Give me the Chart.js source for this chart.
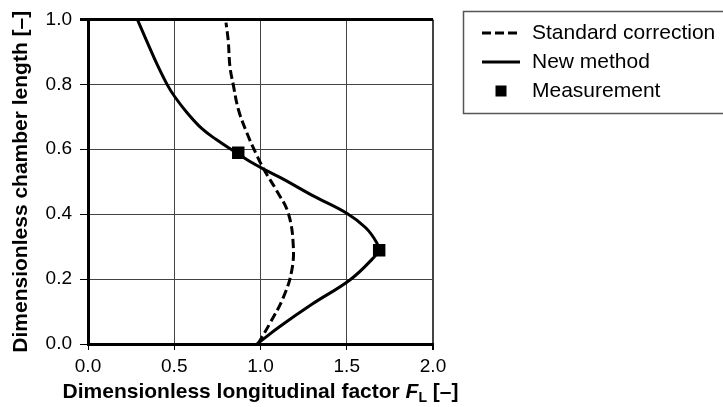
<!DOCTYPE html>
<html>
<head>
<meta charset="utf-8">
<script src="https://cdn.jsdelivr.net/npm/chart.js@4/dist/chart.umd.min.js"></script>
<style>
  body { margin: 0; background: #fff; }
  #wrap { width: 723px; height: 407px; }
</style>
</head>
<body>
<div id="wrap"><canvas id="myChart" width="723" height="407"></canvas></div>
<script>
// values (x = longitudinal factor, y = chamber length)
var stdX = [0.985, 1.054, 1.132, 1.18, 1.19, 1.161, 1.093, 1.025, 0.977, 0.919, 0.871, 0.842, 0.823, 0.813, 0.80];
var stdY = [0.0, 0.063, 0.143, 0.223, 0.303, 0.403, 0.473, 0.533, 0.583, 0.653, 0.724, 0.799, 0.854, 0.934, 0.99];

var newX = [0.98, 1.11, 1.30, 1.52, 1.65, 1.685, 1.673, 1.61, 1.50, 1.30, 1.132, 1.035, 0.939, 0.842, 0.746, 0.659, 0.572, 0.50, 0.459, 0.40, 0.340, 0.286];
var newY = [0.0, 0.053, 0.123, 0.198, 0.263, 0.29, 0.313, 0.358, 0.403, 0.458, 0.508, 0.534, 0.562, 0.595, 0.629, 0.664, 0.714, 0.764, 0.799, 0.862, 0.934, 1.0];

var measX = [0.871, 1.688];
var measY = [0.589, 0.289];

var seriesNames = ['Standard correction', 'New method', 'Measurement'];
var xTitle = ['Dimensionless longitudinal factor ', 'F', 'L', ' [\u2013]'];
var yTitle = 'Dimensionless chamber length [\u2013]';

function toPoints(xs, ys) {
  var pts = [];
  for (var i = 0; i < xs.length; i++) {
    pts.push({ x: xs[i], y: ys[i] });
  }
  return pts;
}

var FONT = 'Liberation Sans, Arial, sans-serif';

// draws the boxed legend and the x title (italic F with subscript L)
var extras = {
  id: 'extras',
  afterDraw: function (chart) {
    var ctx = chart.ctx;
    var sets = chart.data.datasets;
    ctx.save();

    // legend frame
    ctx.strokeStyle = '#555';
    ctx.lineWidth = 1.5;
    ctx.strokeRect(463.5, 11.5, 300, 102);

    var rows = [33, 62, 91];
    ctx.font = '21px ' + FONT;
    ctx.textBaseline = 'middle';
    ctx.fillStyle = '#000';
    for (var i = 0; i < sets.length; i++) {
      var ds = sets[i];
      var y = rows[i];
      if (ds.showLine) {
        ctx.beginPath();
        ctx.setLineDash(ds.borderDash || []);
        ctx.lineWidth = ds.borderWidth;
        ctx.strokeStyle = ds.borderColor;
        ctx.moveTo(482, y);
        ctx.lineTo(520, y);
        ctx.stroke();
        ctx.setLineDash([]);
      } else {
        ctx.fillStyle = ds.pointBackgroundColor;
        ctx.fillRect(495.5, y - 5.5, 11, 11);
      }
      ctx.fillStyle = '#000';
      ctx.textAlign = 'left';
      ctx.fillText(ds.label, 532, y);
    }

    // x axis title
    var area = chart.chartArea;
    var fonts = ['bold 21px ' + FONT, 'italic bold 21px ' + FONT, 'bold 14px ' + FONT, 'bold 21px ' + FONT];
    var shifts = [0, 0, 4, 0];
    var total = 0;
    var widths = [];
    for (var j = 0; j < xTitle.length; j++) {
      ctx.font = fonts[j];
      widths.push(ctx.measureText(xTitle[j]).width);
      total += widths[j];
    }
    var x = (area.left + area.right) / 2 - total / 2;
    ctx.textBaseline = 'alphabetic';
    ctx.textAlign = 'left';
    for (var k = 0; k < xTitle.length; k++) {
      ctx.font = fonts[k];
      ctx.fillText(xTitle[k], x, 398 + shifts[k]);
      x += widths[k];
    }
    ctx.restore();
  }
};

var ctx = document.getElementById('myChart').getContext('2d');

var chartData = {
  type: 'scatter',
  data: {
    datasets: [
      {
        label: seriesNames[0],
        data: toPoints(stdX, stdY),
        showLine: true,
        borderColor: '#000',
        borderWidth: 3,
        borderDash: [9, 4],
        tension: 0.4,
        pointRadius: 0,
        order: 2,
      },
      {
        label: seriesNames[1],
        data: toPoints(newX, newY),
        showLine: true,
        borderColor: '#000',
        borderWidth: 3,
        tension: 0.4,
        pointRadius: 0,
        order: 1,
      },
      {
        label: seriesNames[2],
        data: toPoints(measX, measY),
        showLine: false,
        pointStyle: 'rect',
        pointRadius: 8.8,
        pointBorderWidth: 0,
        pointBackgroundColor: '#000',
        pointBorderColor: '#000',
        order: 0,
      },
    ],
  },
  options: {
    responsive: false,
    animation: false,
    layout: { padding: { top: 11, right: 290, left: 0, bottom: 0 } },
    plugins: {
      legend: { display: false },
      tooltip: { enabled: false },
    },
    scales: {
      x: {
        min: 0,
        max: 2,
        ticks: {
          stepSize: 0.5,
          padding: 5,
          color: '#000',
          font: { family: FONT, size: 19 },
          callback: function (v) { return v.toFixed(1); },
        },
        grid: {
          color: '#444',
          lineWidth: function (c) { return c.tick && c.tick.value === 2 ? 2 : 1; },
          tickColor: '#000',
          tickLength: 6,
        },
        border: { color: '#000', width: 3 },
        afterFit: function (scale) { scale.height = 63; },
      },
      y: {
        min: 0,
        max: 1,
        ticks: {
          stepSize: 0.2,
          padding: 8,
          color: '#000',
          font: { family: FONT, size: 19 },
          callback: function (v) { return v.toFixed(1); },
        },
        grid: {
          color: function (c) { return c.tick && c.tick.value === 1 ? '#000' : '#444'; },
          lineWidth: function (c) { return c.tick && c.tick.value === 1 ? 3 : 1; },
          tickColor: '#000',
          tickLength: 8,
        },
        border: { color: '#000', width: 3 },
        title: {
          display: true,
          text: yTitle,
          color: '#000',
          padding: { top: 9, bottom: 0 },
          font: { family: FONT, size: 21, weight: 'bold' },
        },
        afterFit: function (scale) { scale.width = 88; },
      },
    },
  },
  plugins: [extras],
};

var myChart = new Chart(ctx, chartData);
</script>
</body>
</html>
